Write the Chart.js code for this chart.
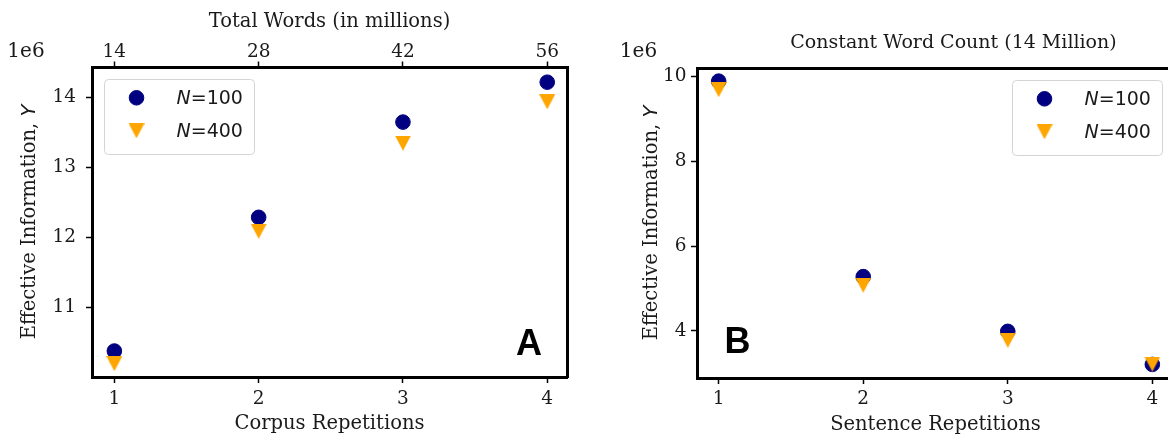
<!DOCTYPE html>
<html>
<head>
<meta charset="utf-8">
<script src="https://cdn.jsdelivr.net/npm/chart.js@4.4.1/dist/chart.umd.min.js"></script>
<style>
  html, body { margin: 0; padding: 0; background: #fff; overflow: hidden; width: 1168px; height: 439px; }
  canvas { position: absolute; top: 0; }
  #panelA { left: 0; }
  #panelB { left: 600px; }
</style>
</head>
<body>
<canvas id="panelA" width="600" height="439"></canvas>
<canvas id="panelB" width="600" height="439"></canvas>
<script>
// Panel A: the whole corpus repeated
const corpusRepetitions = [1, 2, 3, 4];
const totalWordsMillions = [14, 28, 42, 56];
const corpusEffInfoN100 = [10.38e6, 12.29e6, 13.65e6, 14.22e6];
const corpusEffInfoN400 = [10.20e6, 12.09e6, 13.35e6, 13.94e6];
const corpusYTicks = [11e6, 12e6, 13e6, 14e6];

// Panel B: sentences repeated at a constant 14 million words
const sentenceRepetitions = [1, 2, 3, 4];
const sentenceEffInfoN100 = [9.89e6, 5.28e6, 3.99e6, 3.21e6];
const sentenceEffInfoN400 = [9.69e6, 5.08e6, 3.78e6, 3.22e6];
const sentenceYTicks = [4e6, 6e6, 8e6, 10e6];

const seriesNames = ['N=100', 'N=400'];

const INK = '#1a1a1a';
const NAVY = '#000080';
const ORANGE = '#ffa500';
const SERIF = 'DejaVu Serif';

// downward triangle marker, centred on its bounding box
function triangleDown(w, h, color) {
  const c = document.createElement('canvas');
  c.width = w; c.height = h;
  const g = c.getContext('2d');
  g.fillStyle = color;
  g.beginPath();
  g.moveTo(0, 0); g.lineTo(w, 0); g.lineTo(w / 2, h);
  g.closePath(); g.fill();
  return c;
}
const triMarker = triangleDown(16, 15, ORANGE);

function makeDatasets(xs, n100, n400) {
  return [
    { label: seriesNames[0], data: xs.map((x, i) => ({ x, y: n100[i] })),
      pointStyle: 'circle', pointRadius: 7.3, borderWidth: 1,
      backgroundColor: NAVY, borderColor: NAVY, order: 1 },
    { label: seriesNames[1], data: xs.map((x, i) => ({ x, y: n400[i] })),
      pointStyle: triMarker, pointRadius: 8, borderWidth: 0,
      backgroundColor: ORANGE, borderColor: ORANGE, order: 0 }
  ];
}

const frame = { display: true, color: '#000', width: 3 };
const tickFont = { family: SERIF, size: 18.5, lineHeight: 1.2 };
const titleFont = { family: SERIF, size: 19.5, lineHeight: 1.2 };
const outerTicks = (len) => ({ drawOnChartArea: false, drawTicks: true, tickLength: len, tickWidth: 1.5, tickColor: '#000' });
const fixedTicks = (values) => (s) => { s.ticks = values.map(v => ({ value: v })); };

// in-axes legend, offset text, panel letter and rotated y label
const panelDecor = {
  id: 'panelDecor',
  afterDraw(chart, args, o) {
    const ctx = chart.ctx;
    const area = chart.chartArea;
    ctx.save();
    ctx.fillStyle = INK;

    // scale multiplier above the y axis
    ctx.font = `20px "${SERIF}"`;
    ctx.textAlign = 'center';
    ctx.textBaseline = 'alphabetic';
    ctx.fillText(o.multiplier.text, o.multiplier.x, o.multiplier.y);

    // optional title
    if (o.title) {
      ctx.font = `19px "${SERIF}"`;
      ctx.fillText(o.title.text, o.title.x, o.title.y);
    }

    // panel letter
    ctx.fillStyle = '#000';
    ctx.font = 'bold 36px "Liberation Sans"';
    ctx.fillText(o.letter.text, o.letter.x, o.letter.y);

    // rotated y-axis label with an italic variable
    ctx.fillStyle = INK;
    ctx.save();
    ctx.translate(o.yTitle.x, o.yTitle.y);
    ctx.rotate(-Math.PI / 2);
    ctx.textAlign = 'left';
    ctx.textBaseline = 'middle';
    const parts = o.yTitle.parts.map(p => {
      ctx.font = p.font;
      return { ...p, w: ctx.measureText(p.text).width };
    });
    let px = -parts.reduce((s, p) => s + p.w, 0) / 2;
    parts.forEach(p => { ctx.font = p.font; ctx.fillText(p.text, px, 0); px += p.w; });
    ctx.restore();

    // legend box
    const L = o.legend;
    const bx = L.side === 'left' ? area.left + L.dx : area.right - L.dx - L.w;
    const by = area.top + L.dy;
    ctx.beginPath();
    ctx.roundRect(bx + 0.5, by + 0.5, L.w, L.h, 4);
    ctx.fillStyle = 'rgba(255,255,255,0.8)';
    ctx.fill();
    ctx.strokeStyle = '#d4d4d4';
    ctx.lineWidth = 1;
    ctx.stroke();

    chart.data.datasets.forEach((ds, i) => {
      const my = by + L.rows[i];
      ctx.fillStyle = ds.backgroundColor;
      ctx.strokeStyle = ds.borderColor;
      ctx.lineWidth = ds.borderWidth;
      Chart.helpers.drawPoint(ctx, { pointStyle: ds.pointStyle, radius: ds.pointRadius, borderWidth: ds.borderWidth, rotation: 0 }, bx + L.markerX, my);

      const [v, rest] = ds.label.split('=');
      ctx.fillStyle = INK;
      ctx.textAlign = 'left';
      ctx.textBaseline = 'middle';
      let tx = bx + L.textX;
      ctx.font = 'italic 19px "DejaVu Sans"';
      ctx.fillText(v, tx, my + 1);
      tx += ctx.measureText(v).width;
      ctx.font = '19px "DejaVu Sans"';
      ctx.fillText('=' + rest, tx, my + 1);
    });
    ctx.restore();
  }
};

const yTitleParts = [
  { text: 'Effective Information, ', font: `19.5px "${SERIF}"` },
  { text: 'Y', font: 'italic 19.5px "DejaVu Sans"' }
];
const legendLayout = { dx: 12, dy: 12, w: 150, h: 75, markerX: 32.5, textX: 72.5, rows: [18.8, 51.8] };

const common = {
  responsive: false,
  animation: false,
  devicePixelRatio: 1,
  events: []
};

new Chart(document.getElementById('panelA'), {
  type: 'scatter',
  data: { datasets: makeDatasets(corpusRepetitions, corpusEffInfoN100, corpusEffInfoN400) },
  options: {
    ...common,
    layout: { padding: 0 },
    plugins: {
      legend: { display: false },
      tooltip: { enabled: false },
      panelDecor: {
        multiplier: { text: '1e6', x: 26, y: 57 },
        letter: { text: 'A', x: 529, y: 355 },
        yTitle: { x: 30, y: 222, parts: yTitleParts },
        legend: { side: 'left', ...legendLayout }
      }
    },
    scales: {
      x: {
        type: 'linear', position: 'bottom', min: 0.845, max: 4.137,
        afterBuildTicks: fixedTicks(corpusRepetitions),
        afterFit: s => { s.height = 62; },
        ticks: { font: tickFont, color: INK, padding: 5.4, maxRotation: 0, callback: v => String(v) },
        grid: outerTicks(6),
        border: frame,
        title: { display: true, text: 'Corpus Repetitions', color: INK, font: titleFont, padding: { top: 0, bottom: 3.5 } }
      },
      xTop: {
        type: 'linear', position: 'top', min: 0.845, max: 4.137,
        afterBuildTicks: fixedTicks(corpusRepetitions),
        afterFit: s => { s.height = 67; },
        ticks: { font: { family: SERIF, size: 18.5, lineHeight: 1 }, color: INK, padding: 0, maxRotation: 0,
                 callback: (v, i) => String(totalWordsMillions[i]) },
        grid: outerTicks(5.5),
        border: frame,
        title: { display: true, text: 'Total Words (in millions)', color: INK, font: titleFont, padding: { top: 10.5, bottom: 0 } }
      },
      y: {
        type: 'linear', position: 'left', min: 10.009e6, max: 14.437e6,
        afterBuildTicks: fixedTicks(corpusYTicks),
        afterFit: s => { s.width = 92; },
        ticks: { font: tickFont, color: INK, padding: 10, callback: v => String(v / 1e6) },
        grid: outerTicks(6),
        border: frame
      },
      yRight: {
        type: 'linear', position: 'right', display: true,
        afterFit: s => { s.width = 33; },
        ticks: { display: false },
        grid: { display: false },
        border: frame
      }
    }
  },
  plugins: [panelDecor]
});

new Chart(document.getElementById('panelB'), {
  type: 'scatter',
  data: { datasets: makeDatasets(sentenceRepetitions, sentenceEffInfoN100, sentenceEffInfoN400) },
  options: {
    ...common,
    layout: { padding: { left: 0, top: 0, bottom: 0, right: 26 } },
    plugins: {
      legend: { display: false },
      tooltip: { enabled: false },
      panelDecor: {
        multiplier: { text: '1e6', x: 38.5, y: 57 },
        title: { text: 'Constant Word Count (14 Million)', x: 353.5, y: 47.7 },
        letter: { text: 'B', x: 137.5, y: 352.7 },
        yTitle: { x: 52, y: 223, parts: yTitleParts },
        legend: { side: 'right', ...legendLayout }
      }
    },
    scales: {
      x: {
        type: 'linear', position: 'bottom', min: 0.85, max: 4.15,
        afterBuildTicks: fixedTicks(sentenceRepetitions),
        afterFit: s => { s.height = 61; },
        ticks: { font: tickFont, color: INK, padding: 3.7, maxRotation: 0, callback: v => String(v) },
        grid: outerTicks(6),
        border: frame,
        title: { display: true, text: 'Sentence Repetitions', color: INK, font: titleFont, padding: { top: 0, bottom: 2 } }
      },
      xTop: {
        type: 'linear', position: 'top', display: true, min: 0.85, max: 4.15,
        afterFit: s => { s.height = 68; },
        ticks: { display: false },
        grid: { display: false },
        border: frame
      },
      y: {
        type: 'linear', position: 'left', min: 2.89e6, max: 10.2e6,
        afterBuildTicks: fixedTicks(sentenceYTicks),
        afterFit: s => { s.width = 97; },
        ticks: { font: tickFont, color: INK, padding: 4.5, callback: v => String(v / 1e6) },
        grid: outerTicks(6),
        border: frame
      }
    }
  },
  plugins: [panelDecor]
});
</script>
</body>
</html>
